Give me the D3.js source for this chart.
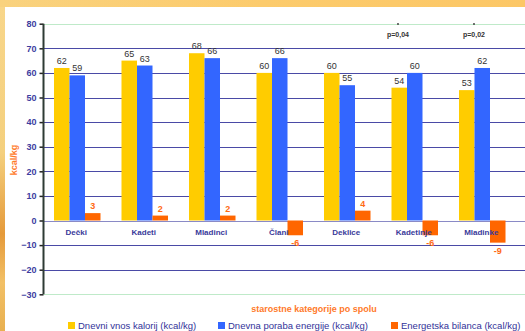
<!DOCTYPE html>
<html>
<head>
<meta charset="utf-8">
<script src="https://cdn.jsdelivr.net/npm/d3@7"></script>
<style>
    html, body { margin: 0; padding: 0; background: #fff; }
    svg { display: block; font-family: "Liberation Sans", Arial, sans-serif; }
</style>
</head>
<body>
<div id="div-bar-chart"></div>
<script>
"use strict";

// Data.
const categories = ["Dečki", "Kadeti", "Mladinci", "Člani", "Deklice", "Kadetinje", "Mladinke"];
const intake = [62, 65, 68, 60, 60, 54, 53];
const expenditure = [59, 63, 66, 66, 55, 60, 62];
const balance = [3, 2, 2, -6, 4, -6, -9];
const seriesNames = ["Dnevni vnos kalorij (kcal/kg)", "Dnevna poraba energije (kcal/kg)", "Energetska bilanca (kcal/kg)"];
const yTicks = [-30, -20, -10, 0, 10, 20, 30, 40, 50, 60, 70, 80];
const pNotes = [{category: "Kadetinje", text: "p=0,04"}, {category: "Mladinke", text: "p=0,02"}];

/**
 * @class
 */
class BalanceChart {

    constructor() {
        this.width = 525;
        this.height = 331;
        this.svg = d3.select("#div-bar-chart")
            .append("svg")
            .attr("width", this.width)
            .attr("height", this.height);
    }

    draw() {
        const svg = this.svg;
        const colors = ["#ffcc00", "#3366ff", "#ff6600"];
        const left = 43.5, step = 67.5;

        // Slide background strips around the chart.
        const defs = svg.append("defs");
        const gTop = defs.append("linearGradient").attr("id", "grad-top");
        gTop.append("stop").attr("offset", "0%").attr("stop-color", "#f9d27e");
        gTop.append("stop").attr("offset", "50%").attr("stop-color", "#fccb6c");
        gTop.append("stop").attr("offset", "100%").attr("stop-color", "#fcc766");
        const gLeft = defs.append("linearGradient").attr("id", "grad-left")
            .attr("x1", 0).attr("y1", 0).attr("x2", 0).attr("y2", 1);
        gLeft.append("stop").attr("offset", "0%").attr("stop-color", "#f8d68a");
        gLeft.append("stop").attr("offset", "45%").attr("stop-color", "#f4d07e");
        gLeft.append("stop").attr("offset", "70%").attr("stop-color", "#e59a3a");
        gLeft.append("stop").attr("offset", "85%").attr("stop-color", "#f2c066");
        gLeft.append("stop").attr("offset", "100%").attr("stop-color", "#e8b050");
        svg.append("rect").attr("width", this.width).attr("height", 7).attr("fill", "url(#grad-top)");
        svg.append("rect").attr("y", 7).attr("width", 5).attr("height", this.height - 7).attr("fill", "url(#grad-left)");

        const x0 = d3.scaleBand()
            .domain(categories)
            .range([left, left + step * categories.length])
            .paddingInner(0.311)
            .paddingOuter(0.1555);
        const x1 = d3.scaleBand()
            .domain([0, 1, 2])
            .range([0, x0.bandwidth()]);
        const y = d3.scaleLinear()
            .domain([-30, 80])
            .range([294.3, 23.7]);

        // Grid lines.
        svg.append("g")
            .selectAll("line")
            .data(yTicks)
            .join("line")
            .attr("x1", left)
            .attr("x2", this.width)
            .attr("y1", d => Math.round(y(d)) + 0.5)
            .attr("y2", d => Math.round(y(d)) + 0.5)
            .attr("stroke", d => (d === 80 || d === -30) ? "#bfeac9" : (d === 0 ? "#8a8ac6" : "#4a4aa6"))
            .attr("stroke-width", 1);

        // Bars.
        const rows = categories.map((c, i) => ({category: c, values: [intake[i], expenditure[i], balance[i]]}));
        const groups = svg.append("g")
            .selectAll("g")
            .data(rows)
            .join("g")
            .attr("transform", d => `translate(${x0(d.category)},0)`);
        groups.selectAll("rect")
            .data(d => d.values.map((v, k) => ({k, v})))
            .join("rect")
            .attr("x", d => x1(d.k))
            .attr("width", x1.bandwidth())
            .attr("y", d => y(Math.max(0, d.v)))
            .attr("height", d => Math.abs(y(d.v) - y(0)))
            .attr("fill", d => colors[d.k]);

        // Category labels sit on top of the bars.
        svg.append("g")
            .selectAll("text")
            .data(categories)
            .join("text")
            .attr("x", d => x0(d) + x0.bandwidth() / 2 - 1)
            .attr("y", 235)
            .attr("text-anchor", "middle")
            .attr("font-size", 8)
            .attr("font-weight", "bold")
            .attr("fill", "#3a3a9a")
            .text(d => d);

        // Value labels.
        groups.selectAll("text")
            .data(d => d.values.map((v, k) => ({k, v})))
            .join("text")
            .attr("x", d => x1(d.k) + x1.bandwidth() / 2)
            .attr("y", d => d.v >= 0 ? y(d.v) - 4 : y(d.v) + 11)
            .attr("text-anchor", "middle")
            .attr("font-size", 9)
            .attr("font-weight", d => d.k === 2 ? "bold" : "normal")
            .attr("fill", d => d.k === 2 ? "#ff6a13" : "#333333")
            .text(d => d.v);

        // Y axis.
        const yAxis = d3.axisLeft(y)
            .tickValues(yTicks)
            .tickSize(4)
            .tickPadding(3);
        const ax = svg.append("g")
            .attr("transform", `translate(${left},0)`)
            .call(yAxis);
        ax.select(".domain").remove();
        ax.selectAll(".tick line").attr("stroke", "#222").attr("stroke-width", 1.5);
        ax.selectAll(".tick text")
            .attr("font-size", 9)
            .attr("font-weight", "bold")
            .attr("font-family", "Liberation Sans, Arial, sans-serif")
            .attr("fill", "#3d3d9f");
        svg.append("line")
            .attr("x1", left).attr("x2", left)
            .attr("y1", y(80)).attr("y2", y(-30))
            .attr("stroke", "#2e3b35")
            .attr("stroke-width", 2);

        // Significance notes.
        const notes = svg.append("g").selectAll("g")
            .data(pNotes)
            .join("g")
            .attr("transform", (d, i) => `translate(${x0(d.category) + (i === 0 ? 6.5 : 15)},0)`);
        notes.append("text")
            .attr("y", 37)
            .attr("text-anchor", "middle")
            .attr("font-size", 7)
            .attr("font-weight", "bold")
            .attr("fill", "#333")
            .text(d => d.text);
        notes.append("circle")
            .attr("cy", 24)
            .attr("r", 0.9)
            .attr("fill", "#333");

        // Axis titles.
        svg.append("text")
            .attr("text-anchor", "middle")
            .attr("transform", "translate(17,160) rotate(-90)")
            .attr("font-size", 9)
            .attr("font-weight", "bold")
            .attr("fill", "#ff7a2a")
            .text("kcal/kg");
        svg.append("text")
            .attr("text-anchor", "middle")
            .attr("x", 314)
            .attr("y", 312)
            .attr("font-size", 9)
            .attr("font-weight", "bold")
            .attr("fill", "#ff7a2a")
            .text("starostne kategorije po spolu");

        // Legend.
        const legendX = [68, 218, 391];
        const legend = svg.append("g").selectAll("g")
            .data(seriesNames)
            .join("g")
            .attr("transform", (d, i) => `translate(${legendX[i]},322)`);
        legend.append("rect")
            .attr("width", 7)
            .attr("height", 7)
            .attr("fill", (d, i) => colors[i]);
        legend.append("text")
            .attr("x", 10)
            .attr("y", 7)
            .attr("font-size", 9.5)
            .attr("fill", "#333399")
            .text(d => d);
    }
}

new BalanceChart().draw();
</script>
</body>
</html>
